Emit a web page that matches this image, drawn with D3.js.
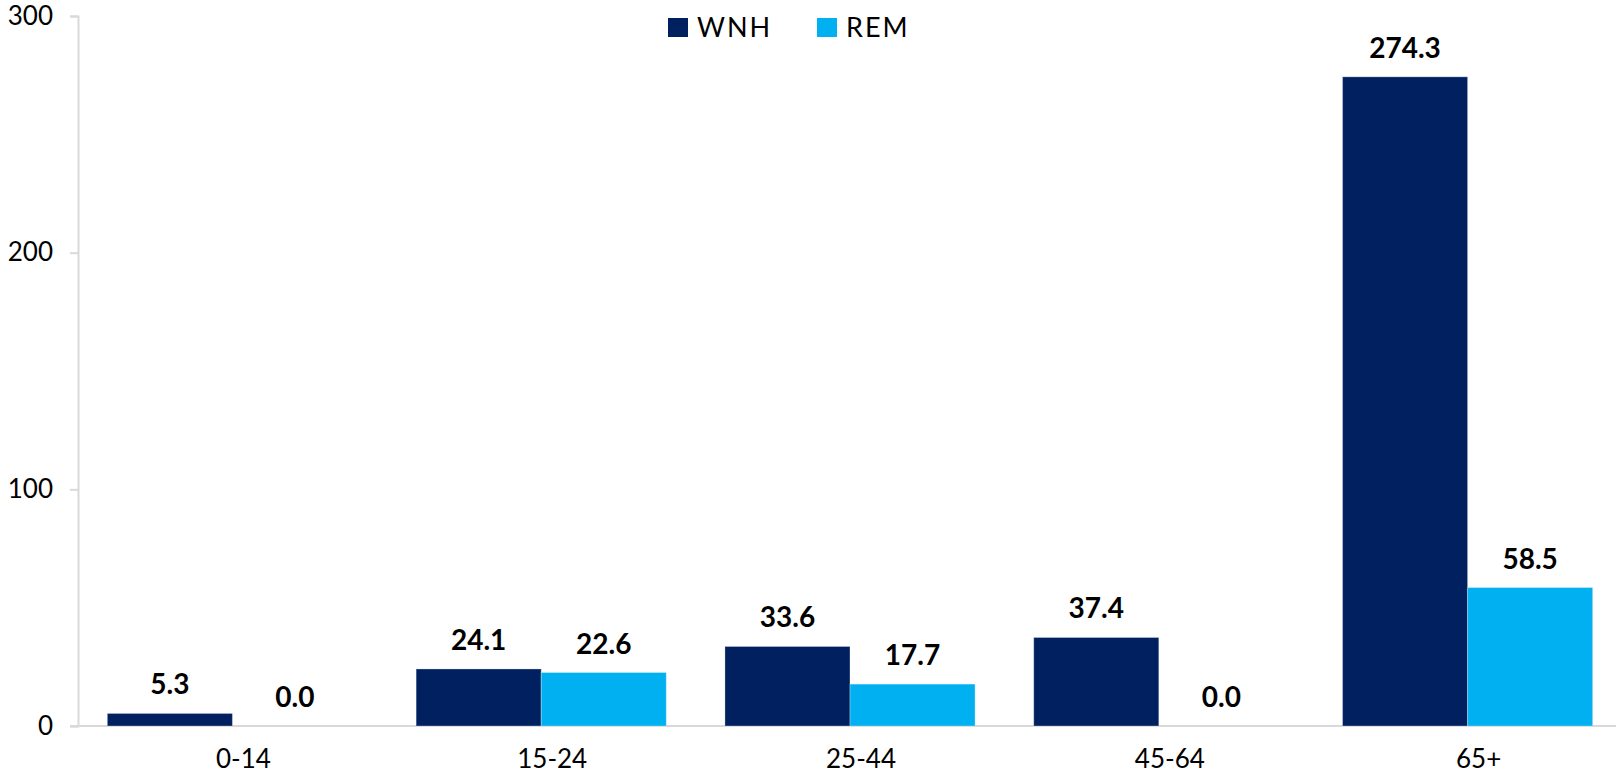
<!DOCTYPE html>
<html>
<head>
<meta charset="utf-8">
<script src="https://cdn.jsdelivr.net/npm/d3@7"></script>
<style>
  html, body { margin: 0; padding: 0; background: #fff; }
  svg { display: block; }
  text { font-family: Lato, "Open Sans", sans-serif; }
</style>
</head>
<body>
<svg id="chart" width="1616" height="773"></svg>
<script>
const categories = ["0-14", "15-24", "25-44", "45-64", "65+"];
const seriesNames = ["WNH", "REM"];
const wnhValues = [5.3, 24.1, 33.6, 37.4, 274.3];
const remValues = [0.0, 22.6, 17.7, 0.0, 58.5];
const yTicks = [0, 100, 200, 300];
const colors = ["#002060", "#00B0F0"];

(function () {
const svg = d3.select("#chart");
const W = 1616;
const plotLeft = 78, plotTop = 16, plotBottom = 726, plotRightEnd = 1622;

const y = d3.scaleLinear().domain([0, 300]).range([plotBottom, plotTop]);
const x = d3.scaleBand().domain(categories).range([plotLeft, plotRightEnd])
  .paddingInner(0.19).paddingOuter(0.095);
const xs = d3.scaleBand().domain(seriesNames).range([0, x.bandwidth()]);

// Y axis
const yAxis = d3.axisLeft(y).tickValues(yTicks).tickSize(8).tickPadding(17)
  .tickFormat(d3.format("d"));
const gy = svg.append("g").attr("transform", `translate(${plotLeft},0)`).call(yAxis);
gy.select(".domain").attr("stroke", "#d9d9d9").attr("stroke-width", 2);
gy.selectAll(".tick line").attr("stroke", "#d9d9d9").attr("stroke-width", 2);
gy.selectAll(".tick text").attr("font-size", 26).attr("fill", "#000")
  .attr("font-family", "Lato, sans-serif");

// X axis
const xAxis = d3.axisBottom(x).tickSize(0).tickPadding(24);
const gx = svg.append("g").attr("transform", `translate(0,${plotBottom})`).call(xAxis);
gx.select(".domain").attr("stroke", "#d9d9d9").attr("stroke-width", 2)
  .attr("d", `M${plotLeft - 8},0H${W}`);
gx.selectAll(".tick text").attr("font-size", 26).attr("fill", "#000")
  .attr("font-family", "Lato, sans-serif").attr("dx", 11);

// Bars
const rows = categories.map((c, i) => ({ cat: c, vals: [wnhValues[i], remValues[i]] }));
const groups = svg.append("g").selectAll("g").data(rows).join("g")
  .attr("transform", d => `translate(${x(d.cat)},0)`);

groups.selectAll("rect").data(d => d.vals.map((v, j) => ({ v, s: seriesNames[j], j })))
  .join("rect")
  .attr("x", d => xs(d.s))
  .attr("width", xs.bandwidth())
  .attr("y", d => y(d.v))
  .attr("height", d => plotBottom - y(d.v))
  .attr("fill", d => colors[d.j])
  .attr("stroke", "rgba(255,255,255,0.3)")
  .attr("stroke-width", 1);

groups.selectAll("text.val").data(d => d.vals.map((v, j) => ({ v, s: seriesNames[j], j })))
  .join("text").attr("class", "val")
  .attr("x", d => xs(d.s) + xs.bandwidth() / 2)
  .attr("y", d => y(d.v) - 19)
  .attr("text-anchor", "middle")
  .attr("font-size", 28).attr("font-weight", 700).attr("fill", "#000")
  .text(d => d.v.toFixed(1));

// Legend
const legendItems = [
  { name: seriesNames[0], x: 668, color: colors[0] },
  { name: seriesNames[1], x: 817, color: colors[1] }
];
const lg = svg.append("g");
legendItems.forEach(it => {
  lg.append("rect").attr("x", it.x).attr("y", 18).attr("width", 20).attr("height", 19)
    .attr("fill", it.color);
  lg.append("text").attr("x", it.x + 29).attr("y", 37)
    .attr("font-size", 27).attr("fill", "#000").attr("letter-spacing", 2)
    .text(it.name);
});
})();
</script>
</body>
</html>
